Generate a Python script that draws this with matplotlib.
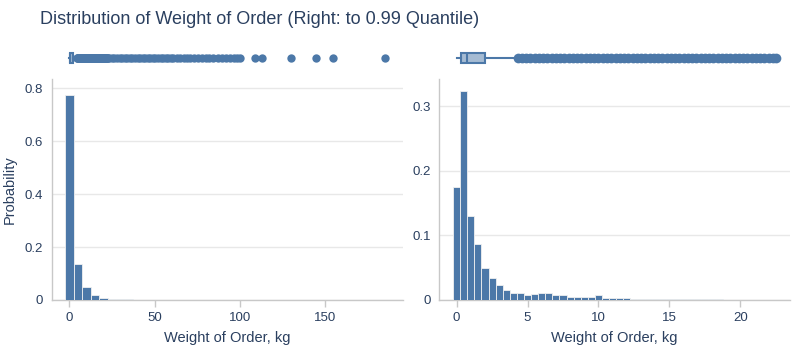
import matplotlib
matplotlib.use("Agg")
import matplotlib.pyplot as plt
import numpy as np

plt.rcParams['font.family'] = ['Liberation Sans', 'DejaVu Sans']

# ---------------- data ----------------
# Left: full range, bins of width 5 centred on 0, 5, 10, ...
left_bin_start = -2.5
left_bin_width = 5.0
left_probs = [0.775, 0.137, 0.048, 0.0185, 0.0086, 0.005, 0.0035, 0.002,
              0.0012, 0.0008, 0.0006, 0.0005, 0.0004, 0.0003, 0.0003, 0.0002,
              0.0002, 0.0002, 0.0001, 0.0001, 0.0001, 0.0, 0.0001, 0.0001,
              0.0, 0.0, 0.0001, 0.0, 0.0, 0.0001, 0.0, 0.0, 0.0, 0.0,
              0.0, 0.0, 0.0, 0.0001]

# Right: to 0.99 quantile, bins of width 0.5 centred on 0, 0.5, 1, ...
right_bin_start = -0.25
right_bin_width = 0.5
right_probs = [0.175, 0.323, 0.130, 0.087, 0.049, 0.034, 0.023, 0.016, 0.011,
               0.011, 0.008, 0.010, 0.011, 0.011, 0.008, 0.008, 0.005, 0.005,
               0.0045, 0.004, 0.007, 0.0035, 0.003, 0.0035, 0.0025, 0.002,
               0.002, 0.0015, 0.0015, 0.001, 0.0012, 0.0018, 0.0022, 0.0015,
               0.001, 0.0012, 0.0008, 0.0008, 0.0006, 0.0006, 0.0005, 0.0005,
               0.0005, 0.0004, 0.0004, 0.0004]

# Box plot statistics (same distribution, right one trimmed)
box_q1, box_med, box_q3 = 0.3, 0.7, 2.0
box_lo, box_hi = 0.0, 4.2

# Outlier points
outliers = [4.3, 4.6, 4.9, 5.2, 5.5, 5.8, 6.1, 6.4, 6.7, 7.0, 7.3, 7.6, 7.9,
            8.2, 8.5, 8.8, 9.1, 9.4, 9.7, 10.0, 10.3, 10.6, 10.9, 11.2, 11.5,
            11.8, 12.1, 12.4, 12.7, 13.0, 13.3, 13.6, 13.9, 14.2, 14.5, 14.8,
            15.1, 15.4, 15.7, 16.0, 16.3, 16.6, 16.9, 17.2, 17.5, 17.8, 18.1,
            18.4, 18.7, 19.0, 19.3, 19.6, 19.9, 20.2, 20.5, 20.8, 21.1, 21.4,
            21.7, 22.0, 22.3, 22.5,
            23.5, 25, 26.5, 28, 29.5, 31, 32.5, 34, 35.5, 37, 38.5, 40, 41.5,
            43, 44.5, 46, 47.5, 49, 50.5, 52, 53.5, 55, 56.5, 58, 59.5, 61,
            63, 65, 67, 69, 71, 73, 75.5, 77.5, 80, 82, 84.5, 87, 89.5, 92,
            94, 96.5, 98.5, 100, 109, 112.8, 129.8, 144.7, 154.7, 185]
right_limit = 22.6

title = "Distribution of Weight of Order (Right: to 0.99 Quantile)"
xlabel = "Weight of Order, kg"
ylabel = "Probability"

# ---------------- style ----------------
C = "#4C78A8"
TXT = "#2a3f5f"
GRID = "#e8e8e8"
AX = "#c8c8c8"

fig = plt.figure(figsize=(8, 3.5), dpi=100)
fig.text(40 / 800, 1 - 19 / 350, title, fontsize=13, color=TXT, va="center", ha="left")

panels = [
    dict(left=51.7, right=402.7, probs=left_probs, start=left_bin_start,
         width=left_bin_width, xlim=(-10.3, 195.4), ylim=(0, 0.835),
         yticks=[0, 0.2, 0.4, 0.6, 0.8], xticks=[0, 50, 100, 150],
         outl=outliers, ylab=True, ms=6),
    dict(left=439.3, right=790, probs=right_probs, start=right_bin_start,
         width=right_bin_width, xlim=(-1.22, 23.5), ylim=(0, 0.342),
         yticks=[0, 0.1, 0.2, 0.3], xticks=[0, 5, 10, 15, 20],
         outl=[v for v in outliers if v <= right_limit], ylab=False, ms=7),
]

H = 350.0
W = 800.0
for p in panels:
    x0 = p['left'] / W
    w = (p['right'] - p['left']) / W
    ax = fig.add_axes([x0, 50 / H, w, (300 - 79) / H])
    n = len(p['probs'])
    centers = p['start'] + p['width'] * (np.arange(n) + 0.5)
    ax.bar(centers, p['probs'], width=p['width'], color=C, edgecolor="#f0f0f0",
           linewidth=0.6, zorder=3)
    ax.set_xlim(*p['xlim'])
    ax.set_ylim(*p['ylim'])
    ax.set_yticks(p['yticks'])
    ax.set_yticklabels(["0" if t == 0 else f"{t:g}" for t in p['yticks']])
    ax.set_xticks(p['xticks'])
    ax.grid(axis='y', color=GRID, linewidth=1, zorder=0)
    for s in ['top', 'right']:
        ax.spines[s].set_visible(False)
    for s in ['left', 'bottom']:
        ax.spines[s].set_color(AX)
        ax.spines[s].set_linewidth(1)
    ax.tick_params(axis='x', colors=AX, labelcolor=TXT, labelsize=9.5, length=5, width=1)
    ax.tick_params(axis='y', length=0, labelcolor=TXT, labelsize=9.5, pad=6)
    ax.set_xlabel(xlabel, fontsize=10.5, color=TXT, labelpad=5)
    if p['ylab']:
        ax.set_ylabel(ylabel, fontsize=10.5, color=TXT, labelpad=6)

    # box strip
    bax = fig.add_axes([x0, 1 - 68 / H, w, 20 / H])
    bax.set_xlim(*p['xlim'])
    bax.set_ylim(-1, 1)
    bax.axis('off')
    stats = [dict(q1=box_q1, med=box_med, q3=box_q3, whislo=box_lo,
                  whishi=box_hi, fliers=[])]
    bax.bxp(stats, positions=[0], vert=False, widths=1.0, showfliers=False,
            patch_artist=True,
            boxprops=dict(facecolor="#a5bbd3", edgecolor=C, linewidth=1.5),
            medianprops=dict(color=C, linewidth=1.5),
            whiskerprops=dict(color=C, linewidth=1.5),
            capprops=dict(color=C, linewidth=0), zorder=3)
    bax.plot(p['outl'], np.zeros(len(p['outl'])), 'o', color=C, markersize=p['ms'],
             markeredgewidth=0, zorder=4)

fig.savefig("out.png", dpi=100)
